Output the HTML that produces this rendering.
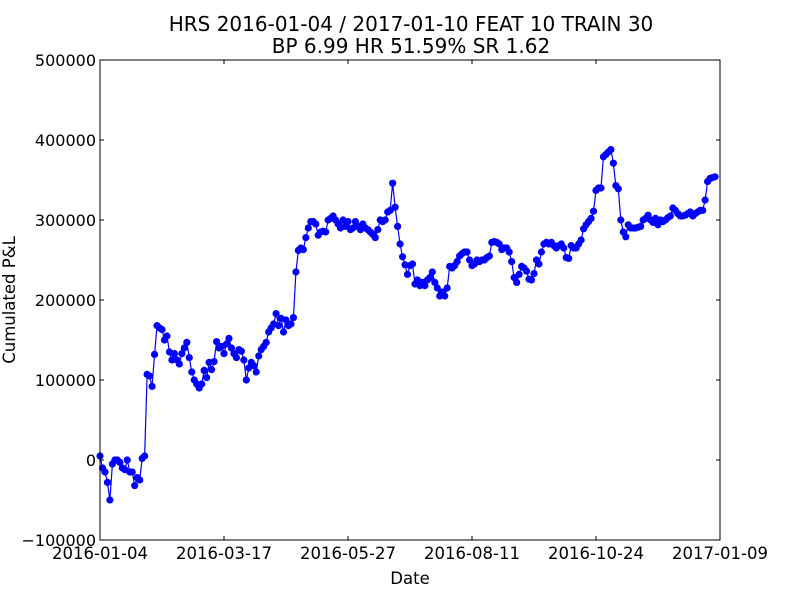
<!DOCTYPE html>
<html><head><meta charset="utf-8">
<style>
body{margin:0;background:#fff;}
svg{display:block;font-family:"DejaVu Sans","Liberation Sans",sans-serif;}
</style></head>
<body>
<svg id="chart" width="800" height="600" viewBox="0 0 800 600">
<rect x="0" y="0" width="800" height="600" fill="#fff"/>
<text x="411" y="31" text-anchor="middle" font-size="20">HRS 2016-01-04 / 2017-01-10 FEAT 10 TRAIN 30</text>
<text x="411" y="53" text-anchor="middle" font-size="20">BP 6.99 HR 51.59%  SR 1.62</text>
<text x="15" y="300" text-anchor="middle" font-size="16.5" transform="rotate(-90 15 300)">Cumulated P&amp;L</text>
<text x="410" y="584" text-anchor="middle" font-size="16.5">Date</text>
<g id="plot"></g>
</svg>
<script>
const values = [5,-10,-15,-28,-50,-5,0,0,-3,-10,
-12,0,-15,-15,-32,-22,-25,2,5,107,105,
92,132,168,165,163,150,155,135,125,133,
125,120,133,140,147,128,110,100,95,90,95,
112,103,122,113,123,148,140,142,133,145,
152,140,133,128,138,136,125,100,115,122,118,
110,130,138,142,147,160,165,170,183,168,
177,160,175,168,170,178,235,262,265,263,
278,290,298,298,295,281,285,286,285,300,
302,305,300,295,290,300,292,298,288,290,
298,292,288,295,290,288,285,282,278,288,300,298,300,310,312,346,
316,292,270,254,244,232,243,245,
220,225,218,222,218,225,228,235,222,215,
205,210,205,215,242,240,243,248,255,258,
260,260,250,243,245,250,248,250,250,253,
255,272,273,272,270,263,265,265,260,248,
228,222,232,242,240,236,226,225,233,250,
245,260,270,272,270,272,268,265,268,270,
265,253,252,268,265,265,270,275,289,294,
298,302,311,337,340,340,379,382,385,388,
371,343,339,300,285,279,294,290,290,290,
291,292,300,302,306,300,297,302,294,300,
298,300,303,305,315,312,308,305,305,306,
308,310,305,308,310,312,312,
325,348,352,353,354];
const yTicks = [-100000,0,100000,200000,300000,400000,500000];
const xTickIdx = [0,50,100,150,200,250];
const xTickLabels = ["2016-01-04","2016-03-17","2016-05-27","2016-08-11","2016-10-24","2017-01-09"];

const L=100,R=720,T=60,B=540;
const X=i=>L+i*(R-L)/250;
const Y=v=>B-(v+100000)*(B-T)/600000;
const NS="http://www.w3.org/2000/svg";
const g=document.getElementById('plot');
function mk(t,a){const e=document.createElementNS(NS,t);for(const k in a)e.setAttribute(k,a[k]);g.appendChild(e);return e;}

let d='';
values.forEach((v,i)=>{d+=(i?'L':'M')+X(i).toFixed(2)+' '+Y(v*1000).toFixed(2);});
const line=mk('path',{d:d,fill:'none',stroke:'#0000ff','stroke-width':1.2});


values.forEach((v,i)=>{
  const c=mk('circle',{cx:X(i),cy:Y(v*1000),r:3.6,fill:'#0000ff'});
  
  
});

const fr=mk('rect',{x:L,y:T,width:R-L,height:B-T,fill:'none',stroke:'#000','stroke-width':1});



yTicks.forEach(v=>{
  const y=Y(v);
  const t1=mk('line',{x1:L,x2:L+4,y1:y,y2:y,stroke:'#000'});
  
  
  const t2=mk('line',{x1:R-4,x2:R,y1:y,y2:y,stroke:'#000'});
  
  
  const tx=mk('text',{x:L-4,y:y+6,'text-anchor':'end','font-size':16});
  tx.textContent=String(v).replace('-','\u2212');
  
  
});
xTickIdx.forEach((ix,k)=>{
  const x=X(ix);
  const t1=mk('line',{x1:x,x2:x,y1:B,y2:B-4,stroke:'#000'});
  
  
  const t2=mk('line',{x1:x,x2:x,y1:T,y2:T+4,stroke:'#000'});
  
  
  const tx=mk('text',{x:x,y:B+19,'text-anchor':'middle','font-size':16.5});
  tx.textContent=xTickLabels[k];
  
  
});
</script>
</body></html>
